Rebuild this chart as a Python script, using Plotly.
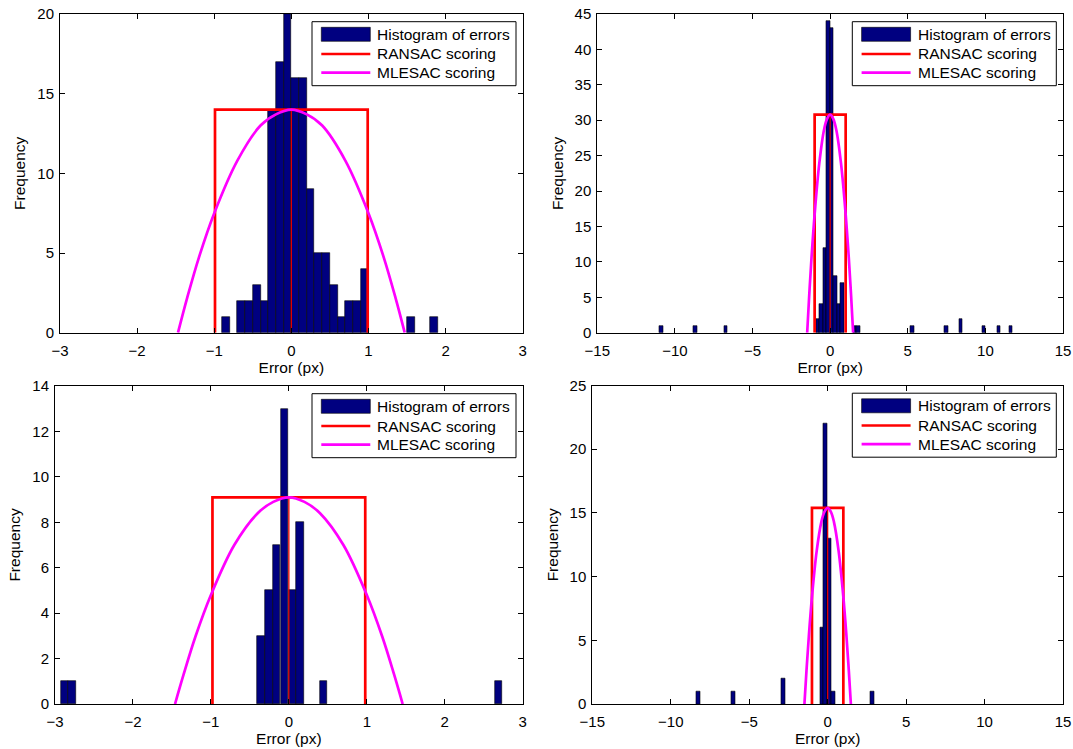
import plotly.graph_objects as go

# ---------------- data ----------------
# Top-left
tl_centers = [-0.85, -0.65, -0.55, -0.45, -0.35, -0.25, -0.15, -0.05, 0.05, 0.15,
              0.25, 0.35, 0.45, 0.55, 0.65, 0.75, 0.85, 0.95, 1.55, 1.85]
tl_counts = [1, 2, 2, 3, 2, 14, 17, 20, 16, 16, 9, 5, 5, 3, 1, 2, 2, 4, 1, 1]
tl_ransac_x = [-0.99, -0.99, 0.99, 0.99]
tl_ransac_y = [0, 14, 14, 0]
tl_mle_x = [-1.47, -1.35, -1.2, -1.0, -0.7, -0.4, -0.2, 0, 0.2, 0.4, 0.7, 1.0, 1.2, 1.35, 1.47]
tl_mle_y = [0, 2.2, 4.7, 7.5, 10.8, 13.0, 13.7, 14.0, 13.7, 13.0, 10.8, 7.5, 4.7, 2.2, 0]

# Top-right
tr_centers = [-10.88, -8.69, -6.72, -0.79, -0.57, -0.35, -0.13, 0.09, 0.32, 0.55, 0.77,
              1.59, 1.82, 5.28, 7.48, 8.43, 9.91, 10.88, 11.64]
tr_counts = [1, 1, 1, 2, 4, 12, 44, 43, 8, 4, 7, 1, 1, 1, 1, 2, 1, 1, 1]
tr_ransac_x = [-1.0, -1.0, 1.0, 1.0]
tr_ransac_y = [0, 30.8, 30.8, 0]
tr_mle_x = [-1.48, -1.35, -1.2, -1.0, -0.7, -0.4, -0.2, 0, 0.2, 0.4, 0.7, 1.0, 1.2, 1.35, 1.48]
tr_mle_y = [0, 5.2, 10.6, 16.7, 23.9, 28.6, 30.2, 30.8, 30.2, 28.6, 23.9, 16.7, 10.6, 5.2, 0]

# Bottom-left
bl_centers = [-2.876, -2.78, -0.357, -0.258, -0.157, -0.055, 0.044, 0.142, 0.447, 2.69]
bl_counts = [1, 1, 3, 5, 7, 13, 5, 8, 1, 1]
bl_ransac_x = [-0.98, -0.98, 0.98, 0.98]
bl_ransac_y = [0, 9.1, 9.1, 0]
bl_mle_x = [-1.46, -1.35, -1.2, -1.0, -0.7, -0.4, -0.2, 0, 0.2, 0.4, 0.7, 1.0, 1.2, 1.35, 1.46]
bl_mle_y = [0, 1.3, 2.95, 4.8, 7.0, 8.4, 8.9, 9.1, 8.9, 8.4, 7.0, 4.8, 2.95, 1.3, 0]

# Bottom-right
br_centers = [-8.23, -6.03, -2.81, -0.37, -0.14, 0.11, 0.36, 2.83]
br_counts = [1, 1, 2, 6, 22, 13, 1, 1]
br_ransac_x = [-1.0, -1.0, 1.0, 1.0]
br_ransac_y = [0, 15.4, 15.4, 0]
br_mle_x = [-1.48, -1.35, -1.2, -1.0, -0.7, -0.4, -0.2, 0, 0.2, 0.4, 0.7, 1.0, 1.2, 1.35, 1.48]
br_mle_y = [0, 2.6, 5.3, 8.4, 12.0, 14.3, 15.1, 15.4, 15.1, 14.3, 12.0, 8.4, 5.3, 2.6, 0]

legend_labels = ["Histogram of errors", "RANSAC scoring", "MLESAC scoring"]
x_title = "Error (px)"
y_title = "Frequency"

# ---------------- layout helpers ----------------
W, H = 1073, 749
FONT = "Liberation Sans, Arial, Helvetica, sans-serif"
NAVY = "#000080"
RED = "#ff0000"
MAG = "#ff00ff"

panels = [
    dict(box=(60, 14, 522.7, 332.7), centers=tl_centers, counts=tl_counts, width=0.1,
         rx=tl_ransac_x, ry=tl_ransac_y, mx=tl_mle_x, my=tl_mle_y,
         xr=[-3, 3], xt=[-3, -2, -1, 0, 1, 2, 3], yr=[0, 20], yt=[0, 5, 10, 15, 20]),
    dict(box=(597.3, 14, 1063, 332.7), centers=tr_centers, counts=tr_counts, width=0.225,
         rx=tr_ransac_x, ry=tr_ransac_y, mx=tr_mle_x, my=tr_mle_y,
         xr=[-15, 15], xt=[-15, -10, -5, 0, 5, 10, 15], yr=[0, 45],
         yt=[0, 5, 10, 15, 20, 25, 30, 35, 40, 45]),
    dict(box=(55, 386, 522.7, 704), centers=bl_centers, counts=bl_counts, width=0.097,
         rx=bl_ransac_x, ry=bl_ransac_y, mx=bl_mle_x, my=bl_mle_y,
         xr=[-3, 3], xt=[-3, -2, -1, 0, 1, 2, 3], yr=[0, 14], yt=[0, 2, 4, 6, 8, 10, 12, 14]),
    dict(box=(592.3, 385.5, 1063, 704), centers=br_centers, counts=br_counts, width=0.24,
         rx=br_ransac_x, ry=br_ransac_y, mx=br_mle_x, my=br_mle_y,
         xr=[-15, 15], xt=[-15, -10, -5, 0, 5, 10, 15], yr=[0, 25], yt=[0, 5, 10, 15, 20, 25]),
]

fig = go.Figure()
shapes = []
annotations = []


def px2x(px):
    return px / W


def py2y(py):
    return 1 - py / H


for i, p in enumerate(panels):
    n = "" if i == 0 else str(i + 1)
    xa, ya = "x" + n, "y" + n
    L, T, R, B = p["box"]
    fig.add_trace(go.Bar(x=p["centers"], y=p["counts"], width=p["width"],
                         marker=dict(color=NAVY, line=dict(color="black", width=0.6)),
                         xaxis=xa, yaxis=ya, showlegend=False))
    # thin center line
    fig.add_trace(go.Scatter(x=[0, 0], y=[0, p["ry"][1]], mode="lines",
                             line=dict(color="#e00000", width=1.3),
                             xaxis=xa, yaxis=ya, showlegend=False))
    fig.add_trace(go.Scatter(x=p["rx"], y=p["ry"], mode="lines",
                             line=dict(color=RED, width=2.7),
                             xaxis=xa, yaxis=ya, showlegend=False))
    fig.add_trace(go.Scatter(x=p["mx"], y=p["my"], mode="lines",
                             line=dict(color=MAG, width=2.7, shape="spline", smoothing=1.0),
                             xaxis=xa, yaxis=ya, showlegend=False))

    axis_common = dict(showline=True, linecolor="black", linewidth=1, mirror="ticks",
                       ticks="inside", ticklen=5, tickwidth=1, tickcolor="black",
                       showgrid=False, zeroline=False, automargin=False,
                       tickfont=dict(family=FONT, size=15, color="black"))
    fig.layout["xaxis" + n] = dict(
        domain=[px2x(L), px2x(R)], range=p["xr"], tickvals=p["xt"], anchor=ya,
        ticklabelstandoff=4,
        title=dict(text=x_title, font=dict(family=FONT, size=15.5, color="black"), standoff=0),
        **axis_common)
    fig.layout["yaxis" + n] = dict(
        domain=[py2y(B), py2y(T)], range=p["yr"], tickvals=p["yt"], anchor=xa,
        ticklabelstandoff=2,
        title=dict(text=y_title, font=dict(family=FONT, size=15.5, color="black"), standoff=7),
        **axis_common)

    # manual legend
    lr = R - 6.7
    ll = lr - 204
    lt = T + 7.7
    lb = lt + 64
    shapes.append(dict(type="rect", xref="paper", yref="paper",
                       x0=px2x(ll), x1=px2x(lr), y0=py2y(lb), y1=py2y(lt),
                       line=dict(color="black", width=1), fillcolor="white", layer="above"))
    rows = [lt + 12.6, lt + 32.3, lt + 51]
    shapes.append(dict(type="rect", xref="paper", yref="paper",
                       x0=px2x(ll + 9.3), x1=px2x(ll + 58.3),
                       y0=py2y(rows[0] + 7), y1=py2y(rows[0] - 7),
                       line=dict(color="black", width=0.6), fillcolor=NAVY, layer="above"))
    shapes.append(dict(type="line", xref="paper", yref="paper",
                       x0=px2x(ll + 9.3), x1=px2x(ll + 58.3),
                       y0=py2y(rows[1]), y1=py2y(rows[1]),
                       line=dict(color=RED, width=2.7), layer="above"))
    shapes.append(dict(type="line", xref="paper", yref="paper",
                       x0=px2x(ll + 9.3), x1=px2x(ll + 58.3),
                       y0=py2y(rows[2]), y1=py2y(rows[2]),
                       line=dict(color=MAG, width=2.7), layer="above"))
    for lab, ry in zip(legend_labels, rows):
        annotations.append(dict(text=lab, xref="paper", yref="paper",
                                x=px2x(ll + 63.3), y=py2y(ry), xanchor="left", yanchor="middle",
                                showarrow=False,
                                font=dict(family=FONT, size=15.5, color="black")))

fig.update_layout(width=W, height=H, margin=dict(l=0, r=0, t=0, b=0),
                  paper_bgcolor="white", plot_bgcolor="white", bargap=0,
                  showlegend=False, shapes=shapes, annotations=annotations)

fig.write_html("out.html")
